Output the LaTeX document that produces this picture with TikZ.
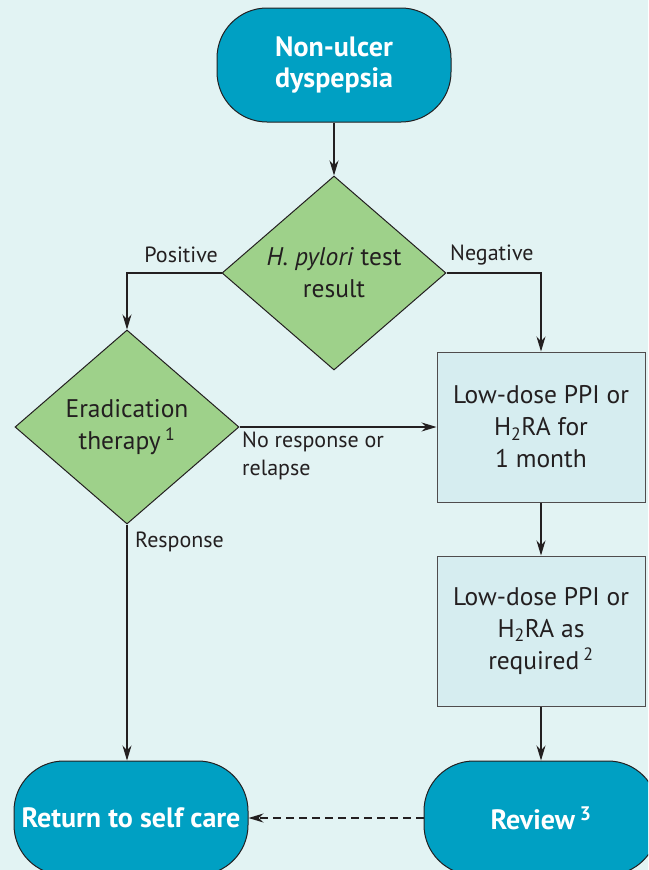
\documentclass[tikz,border=0pt]{standalone}
\usepackage{fontspec}
\setmainfont{PT Sans}
\usepackage{tikz}
\usetikzlibrary{shapes.geometric,arrows.meta}
\definecolor{bg}{HTML}{E2F3F3}
\definecolor{termblue}{HTML}{00A0C3}
\definecolor{decgreen}{HTML}{9ED18A}
\definecolor{boxblue}{HTML}{D6EDF0}
\definecolor{ink}{HTML}{231F20}

\begin{document}
\begin{tikzpicture}[x=1pt, y=-1pt,
    term_node/.style={rectangle, rounded corners=50pt, draw=ink, fill=termblue, line width=1pt,
        minimum width=234pt, minimum height=114pt, text=white, align=center,
        font=\fontsize{28}{31}\selectfont\bfseries},
    dec_node/.style={diamond, aspect=1.155, draw=ink, fill=decgreen, line width=1pt,
        minimum width=224pt, minimum height=194pt, inner sep=0pt, text=ink, align=center,
        font=\fontsize{25.5}{32}\selectfont},
    act_node/.style={rectangle, draw=ink!80, fill=boxblue, line width=1pt,
        minimum width=208pt, minimum height=150pt, text=ink, align=center,
        font=\fontsize{25.5}{32}\selectfont},
    lab_node/.style={text=ink, align=left, inner sep=0pt, font=\fontsize{22}{28}\selectfont},
    arrow/.style={draw=ink, line width=1.1pt, -{Stealth[length=15pt,width=9pt]}}]

    \clip (0,0) rectangle (648,870);
    \fill[bg] (0,0) rectangle (648,870);

    \node[term_node] (start) at (334,65) {Non-ulcer\\dyspepsia};
    \node[dec_node] (hp) at (334,273) {\textit{H. pylori} test\\result};
    \node[dec_node] (erad) at (127,427) {Eradication\\therapy\,\textsuperscript{1}};
    \node[act_node] (ppi1) at (541,427) {Low-dose PPI or\\H\textsubscript{2}RA for\\1 month};
    \node[act_node] (ppi2) at (541,631) {Low-dose PPI or\\H\textsubscript{2}RA as\\required\,\textsuperscript{2}};
    \node[term_node] (selfcare) at (131,818) {Return to self care};
    \node[term_node] (review) at (541,818) {Review\,\textsuperscript{3}};

    % labels
    \node[lab_node, anchor=east] (pos) at (218,255) {Positive};
    \node[lab_node, anchor=west] (neg) at (450,255) {Negative};
    \node[lab_node, anchor=north west] (nores) at (242,432) {No response or\\relapse};
    \node[lab_node, anchor=west] (resp) at (135,542) {Response};

    \draw[arrow] (start) -- (hp);
    \draw[arrow] (hp.west) -| (erad.north);
    \draw[arrow] (hp.east) -| (ppi1.north);
    \draw[arrow] (erad.east) -- (ppi1.west);
    \draw[arrow] (ppi1) -- (ppi2);
    \draw[arrow] (ppi2) -- (review);
    \draw[arrow] (erad.south) -- (erad.south |- selfcare.north);
    \draw[arrow, line width=1.6pt, dash pattern=on 8pt off 5pt] (review) -- (selfcare);
\end{tikzpicture}
\end{document}
